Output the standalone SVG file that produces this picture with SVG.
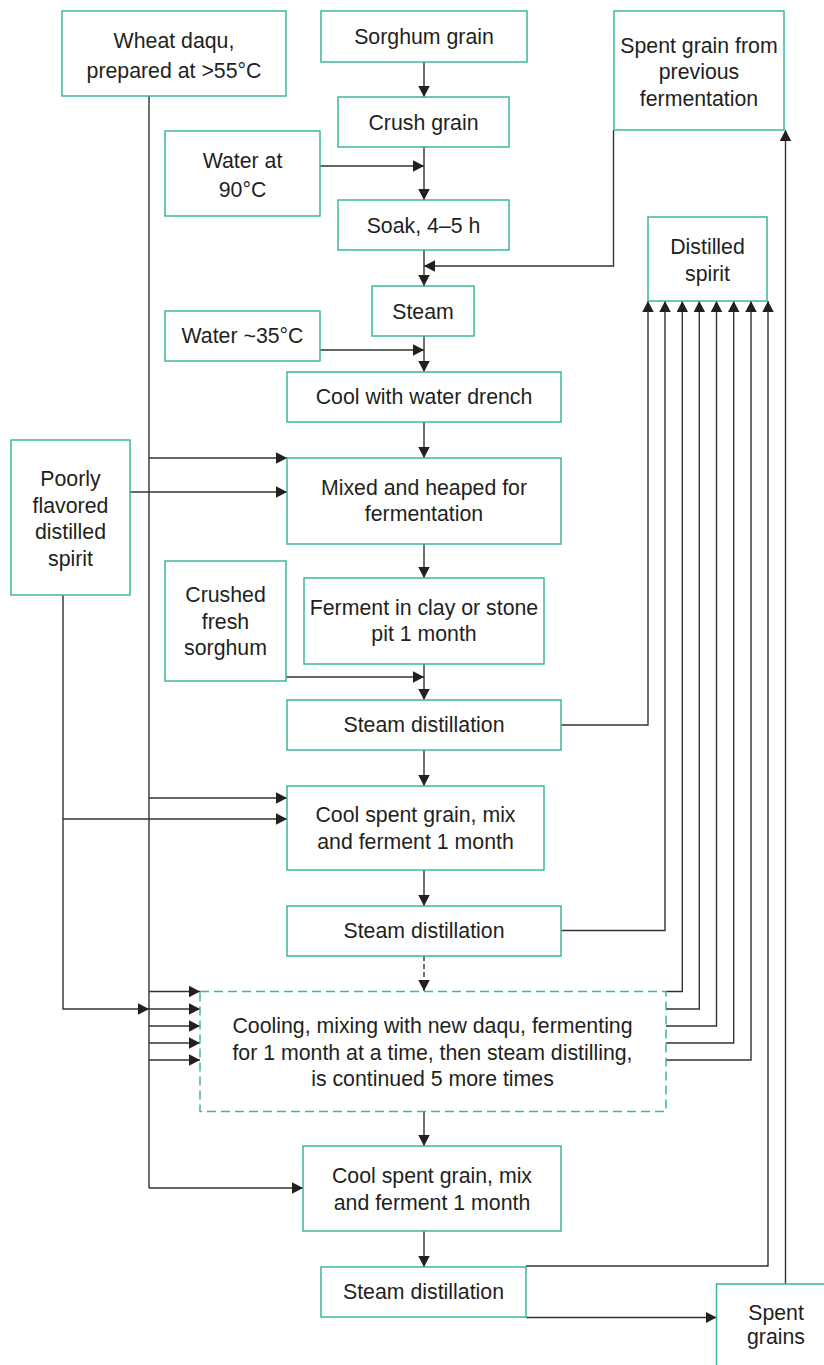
<svg xmlns="http://www.w3.org/2000/svg" width="824" height="1365" viewBox="0 0 824 1365">
  <defs>
    <style>
      .box { fill: #ffffff; stroke: #3db69e; stroke-width: 1.5; }
      .dbox { fill: #ffffff; stroke: #3db69e; stroke-width: 1.5; stroke-dasharray: 9 5; }
      .lbl { font-family: "Liberation Sans", Arial, Helvetica, sans-serif; font-size: 21.3px; fill: #231f20; text-anchor: middle; }
      .ln { fill: none; stroke: #333333; stroke-width: 1.4; }
      .arr { fill: none; stroke: #333333; stroke-width: 1.4; marker-end: url(#ah); }
      .darr { fill: none; stroke: #333333; stroke-width: 1.4; stroke-dasharray: 5 3; marker-end: url(#ah); }
    </style>
    <marker id="ah" markerUnits="userSpaceOnUse" markerWidth="12" markerHeight="12" refX="11" refY="5.75" orient="auto">
      <path d="M0,0 L11,5.75 L0,11.5 z" fill="#231f20"/>
    </marker>
  </defs>
  <rect width="824" height="1365" fill="#ffffff"/>

  <!-- connectors -->
  <g id="connectors">
    <!-- main process spine -->
    <path class="arr" d="M424,62 V97"/>
    <path class="arr" d="M424,147 V200"/>
    <path class="arr" d="M424,250 V286"/>
    <path class="arr" d="M424,336 V372"/>
    <path class="arr" d="M424,422 V458"/>
    <path class="arr" d="M424,544 V578"/>
    <path class="arr" d="M424,664 V700"/>
    <path class="arr" d="M424,750 V786"/>
    <path class="arr" d="M424,870 V906"/>
    <path class="darr" d="M424,956 V991"/>
    <path class="arr" d="M424,1112 V1146"/>
    <path class="arr" d="M424,1231 V1267"/>

    <!-- side inputs to the spine -->
    <path class="arr" d="M320,166 H424"/>
    <path class="arr" d="M613.5,130 V266 H424"/>
    <path class="arr" d="M320,350 H424"/>
    <path class="arr" d="M286,677 H424"/>

    <!-- wheat daqu feed line -->
    <path class="ln" d="M149,96 V1188"/>
    <path class="arr" d="M149,458 H287"/>
    <path class="arr" d="M149,798 H287"/>
    <path class="arr" d="M149,991.5 H200"/>
    <path class="arr" d="M149,1009 H200"/>
    <path class="arr" d="M149,1026 H200"/>
    <path class="arr" d="M149,1043 H200"/>
    <path class="arr" d="M149,1060 H200"/>
    <path class="arr" d="M149,1188 H303"/>

    <!-- poorly flavored spirit returns -->
    <path class="arr" d="M130,492 H287"/>
    <path class="arr" d="M63,819 H287"/>
    <path class="arr" d="M63,595 V1009 H149"/>

    <!-- distillate lines up to the spirit box -->
    <path class="arr" d="M561,725 H648 V301"/>
    <path class="arr" d="M561,930.5 H665 V301"/>
    <path class="arr" d="M666,991.5 H682.3 V301"/>
    <path class="arr" d="M666,1009 H699.3 V301"/>
    <path class="arr" d="M666,1026 H716.5 V301"/>
    <path class="arr" d="M666,1043 H733.7 V301"/>
    <path class="arr" d="M666,1060 H751 V301"/>
    <path class="arr" d="M526,1266 H768 V301"/>

    <!-- spent grain recycling -->
    <path class="arr" d="M526,1317.5 H716.5"/>
    <path class="arr" d="M785.5,1284 V130"/>
  </g>

  <!-- nodes -->
  <g id="wheat-daqu">
    <rect class="box" x="62" y="11" width="224" height="85"/>
    <text class="lbl" x="174" y="48">Wheat daqu,</text>
    <text class="lbl" x="174" y="78">prepared at &gt;55°C</text>
  </g>
  <g id="sorghum-grain">
    <rect class="box" x="321" y="11" width="206" height="51"/>
    <text class="lbl" x="424" y="44">Sorghum grain</text>
  </g>
  <g id="crush-grain">
    <rect class="box" x="338" y="97" width="171" height="50"/>
    <text class="lbl" x="423.5" y="130">Crush grain</text>
  </g>
  <g id="water-90">
    <rect class="box" x="165" y="131" width="155" height="85"/>
    <text class="lbl" x="242.5" y="168">Water at</text>
    <text class="lbl" x="242.5" y="197">90°C</text>
  </g>
  <g id="soak">
    <rect class="box" x="338" y="200" width="171" height="50"/>
    <text class="lbl" x="423.5" y="233">Soak, 4–5 h</text>
  </g>
  <g id="spent-grain-previous">
    <rect class="box" x="614" y="11" width="170" height="119"/>
    <text class="lbl" x="699" y="52.5">Spent grain from</text>
    <text class="lbl" x="699" y="79">previous</text>
    <text class="lbl" x="699" y="105.5">fermentation</text>
  </g>
  <g id="distilled-spirit">
    <rect class="box" x="648" y="217" width="119" height="84"/>
    <text class="lbl" x="707.5" y="254">Distilled</text>
    <text class="lbl" x="707.5" y="281">spirit</text>
  </g>
  <g id="steam">
    <rect class="box" x="372" y="286" width="102" height="50"/>
    <text class="lbl" x="423" y="319">Steam</text>
  </g>
  <g id="water-35">
    <rect class="box" x="165" y="311" width="155" height="50"/>
    <text class="lbl" x="242.5" y="343">Water ~35°C</text>
  </g>
  <g id="cool-drench">
    <rect class="box" x="287" y="372" width="274" height="50"/>
    <text class="lbl" x="424" y="404">Cool with water drench</text>
  </g>
  <g id="mixed-heaped">
    <rect class="box" x="287" y="458" width="274" height="86"/>
    <text class="lbl" x="424" y="495">Mixed and heaped for</text>
    <text class="lbl" x="424" y="521">fermentation</text>
  </g>
  <g id="poorly-flavored">
    <rect class="box" x="11" y="440" width="119" height="155"/>
    <text class="lbl" x="70.5" y="486">Poorly</text>
    <text class="lbl" x="70.5" y="512.5">flavored</text>
    <text class="lbl" x="70.5" y="539">distilled</text>
    <text class="lbl" x="70.5" y="565.5">spirit</text>
  </g>
  <g id="crushed-sorghum">
    <rect class="box" x="165" y="561" width="121" height="120"/>
    <text class="lbl" x="225.5" y="602">Crushed</text>
    <text class="lbl" x="225.5" y="628.5">fresh</text>
    <text class="lbl" x="225.5" y="655">sorghum</text>
  </g>
  <g id="ferment-pit">
    <rect class="box" x="304" y="578" width="240" height="86"/>
    <text class="lbl" x="424" y="614.5">Ferment in clay or stone</text>
    <text class="lbl" x="424" y="641">pit 1 month</text>
  </g>
  <g id="steam-distillation-1">
    <rect class="box" x="287" y="700" width="274" height="50"/>
    <text class="lbl" x="424" y="732">Steam distillation</text>
  </g>
  <g id="cool-spent-1">
    <rect class="box" x="287" y="786" width="257" height="84"/>
    <text class="lbl" x="415.5" y="822">Cool spent grain, mix</text>
    <text class="lbl" x="415.5" y="848.5">and ferment 1 month</text>
  </g>
  <g id="steam-distillation-2">
    <rect class="box" x="287" y="906" width="274" height="50"/>
    <text class="lbl" x="424" y="937.5">Steam distillation</text>
  </g>
  <g id="repeat-cycles">
    <rect class="dbox" x="200" y="991.5" width="466" height="120"/>
    <text class="lbl" x="432.5" y="1033">Cooling, mixing with new daqu, fermenting</text>
    <text class="lbl" x="432.5" y="1060">for 1 month at a time, then steam distilling,</text>
    <text class="lbl" x="432.5" y="1086">is continued 5 more times</text>
  </g>
  <g id="cool-spent-2">
    <rect class="box" x="303" y="1146" width="258" height="85"/>
    <text class="lbl" x="432" y="1183">Cool spent grain, mix</text>
    <text class="lbl" x="432" y="1209.5">and ferment 1 month</text>
  </g>
  <g id="steam-distillation-final">
    <rect class="box" x="321" y="1267" width="205" height="50"/>
    <text class="lbl" x="423.5" y="1299">Steam distillation</text>
  </g>
  <g id="spent-grains">
    <rect class="box" x="716.5" y="1284" width="120" height="100"/>
    <text class="lbl" x="776" y="1320">Spent</text>
    <text class="lbl" x="776" y="1344">grains</text>
  </g>
</svg>
